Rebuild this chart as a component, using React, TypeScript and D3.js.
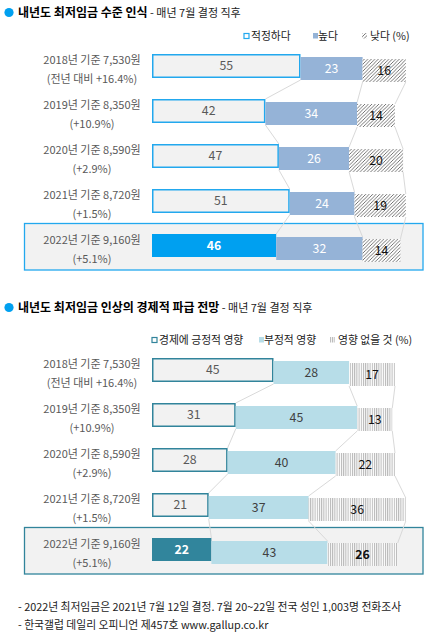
import React from "react";
import * as d3 from "d3";

const rowLabels = [
  "2018년 기준 7,530원",
  "2019년 기준 8,350원",
  "2020년 기준 8,590원",
  "2021년 기준 8,720원",
  "2022년 기준 9,160원",
];
const rowChanges = ["(전년 대비 +16.4%)", "(+10.9%)", "(+2.9%)", "(+1.5%)", "(+5.1%)"];

// 최저임금 수준 인식
const levelAdequate = [55, 42, 47, 51, 46];
const levelHigh = [23, 34, 26, 24, 32];
const levelLow = [16, 14, 20, 19, 14];
const levelLegend = ["적정하다", "높다", "낮다 (%)"];

// 경제적 파급 전망
const effectPositive = [45, 31, 28, 21, 22];
const effectNegative = [28, 45, 40, 37, 43];
const effectNone = [17, 13, 22, 36, 26];
const effectLegend = ["경제에 긍정적 영향", "부정적 영향", "영향 없을 것 (%)"];

const W = 433;
const H = 637;
const FONT = "'Noto Sans CJK KR', 'Noto Sans', sans-serif";
const LABEL = "#595959";

const x = d3.scaleLinear().domain([0, 100]).range([152, 422]);
const segOffset = [0, 3, 5];
const segH = 23;

interface PanelProps {
  top: number;
  titleY: number;
  series: number[][];
  accent: string;
  outline: string;
  midFill: string;
  midText: string;
  hatch: string;
  title: string;
  legend: string[];
  legendX: number[];
  lowBoldLast: boolean;
}

const Panel: React.FC<PanelProps> = (p) => {
  const rows = rowLabels.map((_, i) => i);
  const y = d3.scalePoint<number>().domain(rows).range([p.top + 54, p.top + 234]);
  const stack = rows.map((i) => {
    let acc = 0;
    return p.series.map((s) => {
      const x0 = acc;
      acc += s[i];
      return { x0, x1: acc, v: s[i] };
    });
  });
  const last = rows.length - 1;

  return (
    <g>
      {/* title */}
      <circle cx={9} cy={p.titleY} r={4.6} fill="#00a0f0" />
      <text x={18} y={p.titleY + 4.5} fontFamily={FONT} fontSize={12} fill="#000">
        <tspan fontWeight="bold">{p.title}</tspan>
        <tspan fontSize={11} fill="#222"> - 매년 7월 결정 직후</tspan>
      </text>

      {/* legend */}
      <g fontFamily={FONT} fontSize={10.8} fill="#222">
        <rect x={p.legendX[0]} y={p.top + 33.5} width={5} height={5} fill="#fff" stroke={p.outline} strokeWidth={1.2} />
        <text x={p.legendX[0] + 7} y={p.top + 40}>{p.legend[0]}</text>
        <rect x={p.legendX[1]} y={p.top + 33} width={5} height={5.5} fill={p.midFill} />
        <text x={p.legendX[1] + 5} y={p.top + 40}>{p.legend[1]}</text>
        <rect x={p.legendX[2]} y={p.top + 33} width={5} height={5.5} fill={`url(#${p.hatch})`} />
        <text x={p.legendX[2] + 8} y={p.top + 40}>{p.legend[2]}</text>
      </g>

      {/* highlight box */}
      <rect
        x={24.5}
        y={y(last)! - 10.5}
        width={398.5}
        height={46.5}
        fill="#f2f2f2"
        stroke={p.outline}
        strokeWidth={1.3}
      />

      {/* connectors */}
      {rows.slice(0, -1).map((i) =>
        [0, 1, 2].map((k) => (
          <line
            key={`c${i}-${k}`}
            x1={x(stack[i][k].x1)}
            y1={y(i)! + segOffset[Math.min(k + 1, 2)] + segH}
            x2={x(stack[i + 1][k].x1)}
            y2={y(i + 1)! + segOffset[k]}
            stroke="#d9d9d9"
            strokeWidth={1}
          />
        ))
      )}

      {/* row labels */}
      {rows.map((i) => (
        <g key={`l${i}`} fontFamily={FONT} fontSize={11} fill={LABEL} textAnchor="middle">
          <text x={92} y={y(i)! + 10}>{rowLabels[i]}</text>
          <text x={92} y={y(i)! + 28.5}>{rowChanges[i]}</text>
        </g>
      ))}

      {/* bars */}
      {rows.map((i) => {
        const hl = i === last;
        const [a, b, c] = stack[i];
        const yy = y(i)!;
        return (
          <g key={`b${i}`} fontFamily={FONT} fontSize={12.3} textAnchor="middle">
            <rect
              x={x(a.x0) + (hl ? 0 : 0.75)}
              y={yy + (hl ? 0 : 0.75)}
              width={x(a.x1) - x(a.x0) - (hl ? 0 : 1.5)}
              height={hl ? segH : segH - 0.5}
              fill={hl ? p.accent : "#f2f2f2"}
              stroke={hl ? "none" : p.outline}
              strokeWidth={1.5}
            />
            <text
              x={(x(a.x0) + x(a.x1)) / 2}
              y={yy + segOffset[0] + segH / 2 + 4.5}
              fill={hl ? "#fff" : LABEL}
              fontWeight={hl ? "bold" : "normal"}
            >
              {a.v}
            </text>
            <rect x={x(b.x0)} y={yy + segOffset[1]} width={x(b.x1) - x(b.x0)} height={segH} fill={p.midFill} />
            <text x={(x(b.x0) + x(b.x1)) / 2} y={yy + segOffset[1] + segH / 2 + 4.5} fill={p.midText}>
              {b.v}
            </text>
            <rect x={x(c.x0)} y={yy + segOffset[2]} width={x(c.x1) - x(c.x0)} height={segH} fill={`url(#${p.hatch})`} />
            <text
              x={(x(c.x0) + x(c.x1)) / 2}
              y={yy + segOffset[2] + segH / 2 + 4.5}
              fill="#111"
              fontWeight={hl && p.lowBoldLast ? "bold" : "normal"}
            >
              {c.v}
            </text>
          </g>
        );
      })}
    </g>
  );
};

export default function App() {
  return (
    <div style={{ position: "absolute", left: 0, top: 0 }}>
      <svg width={W} height={H} style={{ display: "block", background: "#fff" }}>
        <defs>
          <pattern id="diag" patternUnits="userSpaceOnUse" width={3.5} height={3.5}>
            <rect width={3.5} height={3.5} fill="#fff" />
            <path d="M-1,1 l2,-2 M0,3.5 l3.5,-3.5 M2.5,4.5 l2,-2" stroke="#3a3a3a" strokeWidth={0.7} />
          </pattern>
          <pattern id="vert" patternUnits="userSpaceOnUse" width={2.2} height={4}>
            <rect width={2.2} height={4} fill="#fff" />
            <rect width={1} height={4} fill="#b5b5b5" />
          </pattern>
        </defs>
        <Panel
          top={0}
          titleY={12.5}
          series={[levelAdequate, levelHigh, levelLow]}
          accent="#00a0f0"
          outline="#22a8ee"
          midFill="#95b3d7"
          midText="#fff"
          hatch="diag"
          title="내년도 최저임금 수준 인식"
          legend={levelLegend}
          legendX={[244, 313, 362]}
          lowBoldLast={false}
        />
        <Panel
          top={304}
          titleY={307.5}
          series={[effectPositive, effectNegative, effectNone]}
          accent="#31859c"
          outline="#31849b"
          midFill="#b7dde8"
          midText="#404040"
          hatch="vert"
          title="내년도 최저임금 인상의 경제적 파급 전망"
          legend={effectLegend}
          legendX={[152, 259, 330]}
          lowBoldLast={true}
        />
        <g fontFamily={FONT} fontSize={10.8} fill="#222">
          <text x={18} y={611}>- 2022년 최저임금은 2021년 7월 12일 결정. 7월 20~22일 전국 성인 1,003명 전화조사</text>
          <text x={18} y={628.5}>- 한국갤럽 데일리 오피니언 제457호 www.gallup.co.kr</text>
        </g>
      </svg>
    </div>
  );
}
